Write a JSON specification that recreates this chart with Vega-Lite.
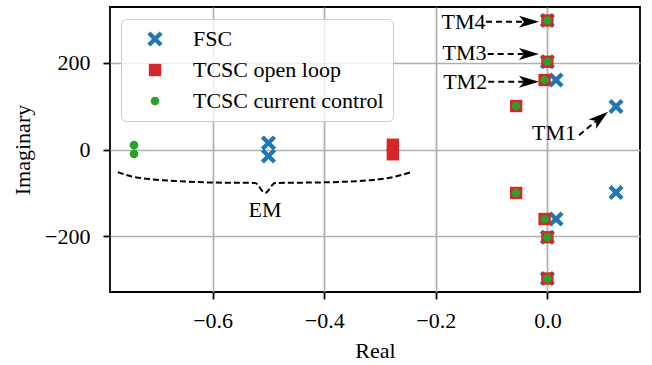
{
  "$schema": "https://vega.github.io/schema/vega-lite/v6.json",
  "autosize": {"type": "none"},
  "width": 530,
  "height": 285,
  "padding": {"left": 110, "top": 7, "right": 12, "bottom": 73},
  "background": "white",
  "config": {
    "view": {"stroke": "black", "strokeWidth": 1.8},
    "font": "Liberation Serif",
    "axis": {
      "labelFont": "Liberation Serif",
      "labelFontSize": 22,
      "labelColor": "black",
      "titleFont": "Liberation Serif",
      "titleFontSize": 22,
      "titleFontWeight": "normal",
      "titleColor": "black",
      "tickColor": "black",
      "tickSize": 7,
      "tickWidth": 1.8,
      "gridColor": "#b0b0b0",
      "gridWidth": 1.7,
      "domain": false
    },
    "legend": {
      "labelFont": "Liberation Serif",
      "labelFontSize": 22,
      "labelColor": "black",
      "labelLimit": 400
    }
  },
  "datasets": {
    "poles": [
      {"re": -0.5, "im": 15, "series": "FSC"},
      {"re": -0.5, "im": -15, "series": "FSC"},
      {"re": 0.123, "im": 99, "series": "FSC"},
      {"re": 0.123, "im": -99, "series": "FSC"},
      {"re": 0.0155, "im": 160, "series": "FSC"},
      {"re": 0.0155, "im": -160, "series": "FSC"},
      {"re": 0, "im": 202, "series": "FSC"},
      {"re": 0, "im": -202, "series": "FSC"},
      {"re": 0, "im": 297, "series": "FSC"},
      {"re": 0, "im": -297, "series": "FSC"},
      {"re": -0.277, "im": 11, "series": "TCSC open loop"},
      {"re": -0.277, "im": -11, "series": "TCSC open loop"},
      {"re": -0.056, "im": 100, "series": "TCSC open loop"},
      {"re": -0.056, "im": -100, "series": "TCSC open loop"},
      {"re": -0.005, "im": 160, "series": "TCSC open loop"},
      {"re": -0.005, "im": -160, "series": "TCSC open loop"},
      {"re": 0, "im": 202, "series": "TCSC open loop"},
      {"re": 0, "im": -202, "series": "TCSC open loop"},
      {"re": 0, "im": 297, "series": "TCSC open loop"},
      {"re": 0, "im": -297, "series": "TCSC open loop"},
      {"re": -0.741, "im": 10, "series": "TCSC current control"},
      {"re": -0.741, "im": -10, "series": "TCSC current control"},
      {"re": -0.056, "im": 100, "series": "TCSC current control"},
      {"re": -0.056, "im": -100, "series": "TCSC current control"},
      {"re": -0.005, "im": 160, "series": "TCSC current control"},
      {"re": -0.005, "im": -160, "series": "TCSC current control"},
      {"re": 0, "im": 202, "series": "TCSC current control"},
      {"re": 0, "im": -202, "series": "TCSC current control"},
      {"re": 0, "im": 297, "series": "TCSC current control"},
      {"re": 0, "im": -297, "series": "TCSC current control"}
    ],
    "brace": [
      {"i": 0, "re": -0.770, "im": -52},
      {"i": 1, "re": -0.745, "im": -62},
      {"i": 2, "re": -0.713, "im": -68},
      {"i": 3, "re": -0.660, "im": -73},
      {"i": 4, "re": -0.600, "im": -76},
      {"i": 5, "re": -0.524, "im": -77},
      {"i": 6, "re": -0.506, "im": -100},
      {"i": 7, "re": -0.488, "im": -77},
      {"i": 8, "re": -0.420, "im": -76},
      {"i": 9, "re": -0.360, "im": -74},
      {"i": 10, "re": -0.312, "im": -70},
      {"i": 11, "re": -0.275, "im": -63},
      {"i": 12, "re": -0.242, "im": -51}
    ],
    "labelsRight": [
      {"re": -0.111, "im": 294, "label": "TM4"},
      {"re": -0.109, "im": 221, "label": "TM3"},
      {"re": -0.108, "im": 156, "label": "TM2"}
    ],
    "labelsCenter": [
      {"re": 0.0118, "im": 37, "label": "TM1"},
      {"re": -0.506, "im": -139, "label": "EM"}
    ],
    "arrows": [
      {"re": -0.110, "im": 294, "re2": -0.036, "im2": 294},
      {"re": -0.107, "im": 220, "re2": -0.036, "im2": 220},
      {"re": -0.106, "im": 156, "re2": -0.036, "im2": 156},
      {"re": 0.0567, "im": 33, "re2": 0.093, "im2": 71}
    ],
    "headsFlat": [
      {"re": -0.033, "im": 294},
      {"re": -0.033, "im": 220},
      {"re": -0.033, "im": 156}
    ],
    "headsTilt": [
      {"re": 0.0947, "im": 72.7}
    ]
  },
  "encoding": {
    "x": {
      "field": "re", "type": "quantitative",
      "scale": {"domain": [-0.784, 0.166], "nice": false, "zero": false},
      "axis": {"title": "Real", "values": [-0.6, -0.4, -0.2, 0.0], "format": ".1f", "labelPadding": 11, "titlePadding": 9}
    },
    "y": {
      "field": "im", "type": "quantitative",
      "scale": {"domain": [-328, 328], "nice": false, "zero": false},
      "axis": {"title": "Imaginary", "values": [-200, 0, 200], "labelPadding": 13, "titlePadding": 10}
    }
  },
  "layer": [
    {
      "data": {"name": "poles"},
      "mark": {"type": "point", "filled": true, "opacity": 1, "strokeWidth": 0},
      "encoding": {
        "color": {
          "field": "series", "type": "nominal",
          "scale": {"domain": ["FSC", "TCSC open loop", "TCSC current control"], "range": ["#1f77b4", "#d62728", "#2ca02c"]},
          "legend": {
            "title": null, "orient": "none", "legendX": 11, "legendY": 12,
            "padding": 9, "symbolOffset": 14, "labelOffset": 27, "rowPadding": 9,
            "fillColor": "rgba(255,255,255,0.8)", "strokeColor": "#cccccc", "cornerRadius": 5
          }
        },
        "shape": {
          "field": "series", "type": "nominal",
          "scale": {"domain": ["FSC", "TCSC open loop", "TCSC current control"], "range": ["M-1,-0.6 L-0.6,-1 L0,-0.4 L0.6,-1 L1,-0.6 L0.4,0 L1,0.6 L0.6,1 L0,0.4 L-0.6,1 L-1,0.6 L-0.4,0 Z", "square", "circle"]}
        },
        "size": {
          "field": "series", "type": "nominal",
          "scale": {"domain": ["FSC", "TCSC open loop", "TCSC current control"], "range": [230, 75, 40]}
        }
      }
    },
    {
      "data": {"name": "brace"},
      "mark": {"type": "line", "color": "black", "strokeWidth": 2, "strokeDash": [6, 3], "interpolate": "monotone"},
      "encoding": {"order": {"field": "i", "type": "quantitative"}}
    },
    {
      "data": {"name": "arrows"},
      "mark": {"type": "rule", "color": "black", "strokeWidth": 2, "strokeDash": [6, 4]},
      "encoding": {
        "x2": {"field": "re2"},
        "y2": {"field": "im2"}
      }
    },
    {
      "data": {"name": "headsFlat"},
      "mark": {"type": "point", "filled": true, "color": "black", "opacity": 1, "strokeWidth": 0, "size": 400, "shape": "M1,0 L-1,-0.6 L-0.5,0 L-1,0.6 Z"},
      "encoding": {}
    },
    {
      "data": {"name": "headsTilt"},
      "mark": {"type": "point", "filled": true, "color": "black", "opacity": 1, "strokeWidth": 0, "size": 400, "angle": -38.4, "shape": "M1,0 L-1,-0.6 L-0.5,0 L-1,0.6 Z"},
      "encoding": {}
    },
    {
      "data": {"name": "labelsRight"},
      "mark": {"type": "text", "align": "right", "baseline": "middle", "font": "Liberation Serif", "fontSize": 22, "color": "black"},
      "encoding": {"text": {"field": "label"}}
    },
    {
      "data": {"name": "labelsCenter"},
      "mark": {"type": "text", "align": "center", "baseline": "middle", "font": "Liberation Serif", "fontSize": 22, "color": "black"},
      "encoding": {"text": {"field": "label"}}
    }
  ]
}
